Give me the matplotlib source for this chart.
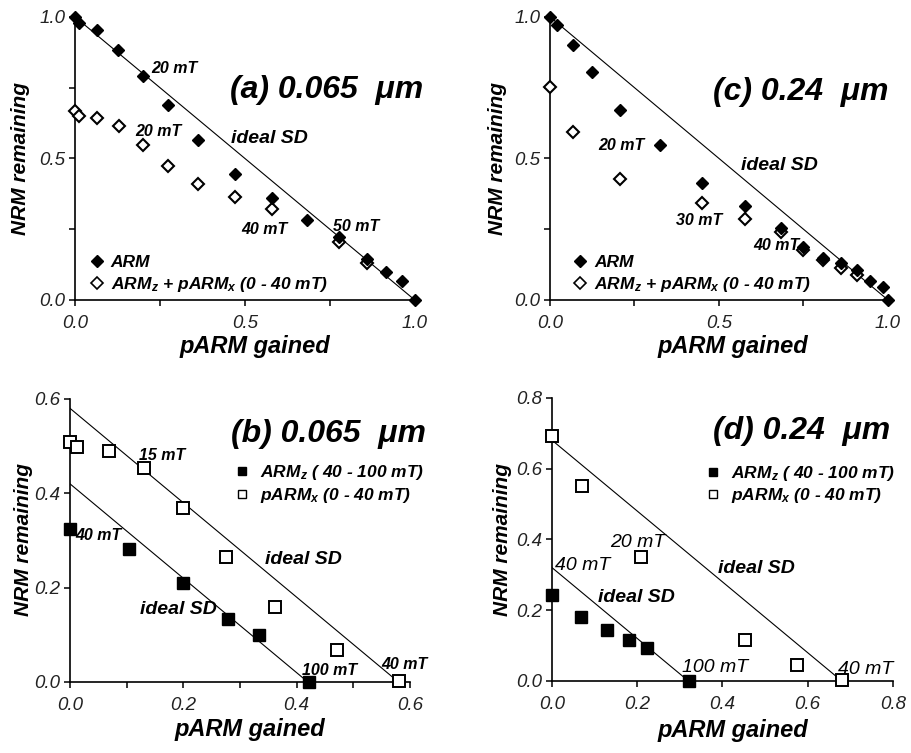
from matplotlib import pyplot as plt
from matplotlib.ticker import FormatStrFormatter, MultipleLocator
from matplotlib.lines import Line2D

plt.rcParams["font.family"] = ["Liberation Sans", "DejaVu Sans"]
plt.rcParams["mathtext.fontset"] = "custom"
plt.rcParams["mathtext.it"] = "Liberation Sans:italic:bold"
plt.rcParams["mathtext.rm"] = "Liberation Sans:italic:bold"

# (a) 0.065 um : ARM vs ARMz + pARMx
a_arm_x = [0.0, 0.012, 0.066, 0.127, 0.199, 0.275, 0.361, 0.471, 0.580, 0.683, 0.776, 0.858, 0.914, 0.961, 1.0]
a_arm_y = [1.0, 0.979, 0.953, 0.882, 0.791, 0.688, 0.565, 0.445, 0.362, 0.282, 0.224, 0.144, 0.100, 0.067, 0.0]
a_mix_x = [0.0, 0.013, 0.066, 0.129, 0.199, 0.275, 0.361, 0.471, 0.580, 0.776, 0.858]
a_mix_y = [0.667, 0.651, 0.644, 0.614, 0.549, 0.474, 0.411, 0.365, 0.321, 0.206, 0.129]

# (c) 0.24 um
c_arm_x = [0.0, 0.022, 0.069, 0.123, 0.207, 0.325, 0.451, 0.576, 0.685, 0.749, 0.808, 0.862, 0.908, 0.946, 0.985, 1.0]
c_arm_y = [1.0, 0.971, 0.900, 0.806, 0.671, 0.549, 0.412, 0.333, 0.256, 0.188, 0.147, 0.129, 0.106, 0.068, 0.045, 0.0]
c_mix_x = [0.0, 0.069, 0.207, 0.451, 0.576, 0.685, 0.749, 0.808, 0.862, 0.908]
c_mix_y = [0.751, 0.594, 0.429, 0.344, 0.286, 0.239, 0.176, 0.141, 0.112, 0.088]

# (b) 0.065 um : ARMz (40-100 mT) and pARMx (0-40 mT)
b_armz_x = [0.0, 0.105, 0.199, 0.279, 0.334, 0.422]
b_armz_y = [0.324, 0.282, 0.209, 0.134, 0.099, 0.0]
b_parm_x = [0.0, 0.013, 0.069, 0.131, 0.200, 0.275, 0.362, 0.472, 0.581]
b_parm_y = [0.508, 0.499, 0.490, 0.454, 0.369, 0.264, 0.159, 0.067, 0.002]
b_sd = [0.42, 0.58]

# (d) 0.24 um
d_armz_x = [0.0, 0.067, 0.128, 0.180, 0.224, 0.322]
d_armz_y = [0.242, 0.181, 0.143, 0.115, 0.094, 0.0]
d_parm_x = [0.0, 0.071, 0.208, 0.453, 0.574, 0.680]
d_parm_y = [0.692, 0.552, 0.350, 0.115, 0.045, 0.002]
d_sd = [0.32, 0.68]

mix_label = "ARM$_z$ + pARM$_x$ (0 - 40 mT)"
armz_label = "ARM$_z$ ( 40 - 100 mT)"
parm_label = "pARM$_x$ (0 - 40 mT)"

fig = plt.figure(figsize=(9.11, 7.53), dpi=100)
ax_a = fig.add_axes([0.0823, 0.6016, 0.373, 0.376])
ax_c = fig.add_axes([0.6037, 0.6016, 0.371, 0.376])
ax_b = fig.add_axes([0.0768, 0.0943, 0.373, 0.376])
ax_d = fig.add_axes([0.606, 0.0957, 0.374, 0.376])

bi = dict(fontweight="bold", fontstyle="italic")


def style_axes(ax, xmax, ymax, xmaj, xmin, ymaj, ymin, ylab, xlab):
    ax.set_xlim(0, xmax)
    ax.set_ylim(0, ymax)
    for s in ["top", "right"]:
        ax.spines[s].set_visible(False)
    for s in ["left", "bottom"]:
        ax.spines[s].set_linewidth(1.2)
    ax.xaxis.set_major_locator(MultipleLocator(xmaj))
    ax.yaxis.set_major_locator(MultipleLocator(ymaj))
    if xmin:
        ax.xaxis.set_minor_locator(MultipleLocator(xmin))
    if ymin:
        ax.yaxis.set_minor_locator(MultipleLocator(ymin))
    ax.xaxis.set_major_formatter(FormatStrFormatter("%.1f"))
    ax.yaxis.set_major_formatter(FormatStrFormatter("%.1f"))
    ax.tick_params(which="both", direction="out", length=4, width=1.1,
                   labelsize=13.5, labelcolor="#222222")
    ax.tick_params(axis="x", pad=7)
    ax.tick_params(axis="y", pad=3)
    for t in ax.get_xticklabels() + ax.get_yticklabels():
        t.set_fontstyle("italic")
    ax.set_ylabel("NRM remaining", fontsize=15, **bi)
    ax.set_xlabel("pARM gained", fontsize=17, **bi)
    ax.yaxis.set_label_coords(ylab[0], ylab[1])
    ax.xaxis.set_label_coords(xlab[0], xlab[1])


def note(ax, x, y, s, size=11.5, bold=True):
    ax.text(x, y, s, fontsize=size, fontstyle="italic",
            fontweight="bold" if bold else "normal", ha="left", va="center")


# top row: diamonds
for ax, ax_x, ax_y, mx, my in [(ax_a, a_arm_x, a_arm_y, a_mix_x, a_mix_y),
                               (ax_c, c_arm_x, c_arm_y, c_mix_x, c_mix_y)]:
    ax.plot([0, 1], [1, 0], color="black", lw=0.8)
    ax.plot(mx, my, "D", ms=6.5, mfc="white", mec="black", mew=1.5,
            ls="none", clip_on=False, zorder=3)
    ax.plot(ax_x, ax_y, "D", ms=6.5, mfc="black", mec="black",
            ls="none", clip_on=False, zorder=4)

style_axes(ax_a, 1.0, 1.0, 0.5, 0.25, 0.5, 0.25, (-0.132, 0.5), (0.53, -0.124))
style_axes(ax_c, 1.0, 1.0, 0.5, 0.25, 0.5, 0.25, (-0.127, 0.5), (0.54, -0.124))

note(ax_a, 0.225, 0.818, "20 mT")
note(ax_a, 0.176, 0.594, "20 mT")
note(ax_a, 0.49, 0.249, "40 mT")
note(ax_a, 0.76, 0.259, "50 mT")
note(ax_a, 0.46, 0.57, "ideal SD", size=14)
note(ax_a, 0.456, 0.741, "(a) 0.065  μm", size=23)

note(ax_c, 0.143, 0.547, "20 mT")
note(ax_c, 0.374, 0.282, "30 mT")
note(ax_c, 0.601, 0.194, "40 mT")
note(ax_c, 0.564, 0.476, "ideal SD", size=14)
note(ax_c, 0.483, 0.735, "(c) 0.24  μm", size=23)

for ax, x0 in [(ax_a, 0.044), (ax_c, 0.069)]:
    h = [Line2D([], [], marker="D", ms=6.5, mfc="black", mec="black", ls="none"),
         Line2D([], [], marker="D", ms=6.5, mfc="white", mec="black", mew=1.2, ls="none")]
    leg = ax.legend(h, ["ARM", mix_label], loc="center left",
                    bbox_to_anchor=(x0, 0.089), frameon=False,
                    prop=dict(size=12.5, weight="bold", style="italic"),
                    handlelength=0.8, handletextpad=0.4, borderpad=0,
                    borderaxespad=0, labelspacing=0.3)

# bottom row: squares
for ax, zx, zy, px, py, sd in [(ax_b, b_armz_x, b_armz_y, b_parm_x, b_parm_y, b_sd),
                               (ax_d, d_armz_x, d_armz_y, d_parm_x, d_parm_y, d_sd)]:
    for v in sd:
        ax.plot([0, v], [v, 0], color="black", lw=0.8)
    ax.plot(px, py, "s", ms=8, mfc="white", mec="black", mew=1.4,
            ls="none", clip_on=False, zorder=3)
    ax.plot(zx, zy, "s", ms=8.5, mfc="black", mec="black",
            ls="none", clip_on=False, zorder=4)

style_axes(ax_b, 0.6, 0.6, 0.2, 0.1, 0.2, None, (-0.109, 0.505), (0.53, -0.127))
style_axes(ax_d, 0.8, 0.8, 0.2, None, 0.2, None, (-0.117, 0.5), (0.53, -0.134))

note(ax_b, 0.122, 0.480, "15 mT")
note(ax_b, 0.009, 0.310, "40 mT")
note(ax_b, 0.409, 0.025, "100 mT")
note(ax_b, 0.55, 0.037, "40 mT")
note(ax_b, 0.344, 0.260, "ideal SD", size=14)
note(ax_b, 0.124, 0.154, "ideal SD", size=14)
note(ax_b, 0.285, 0.526, "(b) 0.065  μm", size=23)

note(ax_d, 0.136, 0.391, "20 mT", size=14, bold=False)
note(ax_d, 0.006, 0.325, "40 mT", size=14, bold=False)
note(ax_d, 0.304, 0.038, "100 mT", size=14, bold=False)
note(ax_d, 0.672, 0.033, "40 mT", size=14, bold=False)
note(ax_d, 0.39, 0.317, "ideal SD", size=14)
note(ax_d, 0.108, 0.235, "ideal SD", size=14)
note(ax_d, 0.379, 0.706, "(d) 0.24  μm", size=23)

for ax, x0, yc in [(ax_b, 0.487, 0.699), (ax_d, 0.453, 0.694)]:
    h = [Line2D([], [], marker="s", ms=6, mfc="black", mec="black", ls="none"),
         Line2D([], [], marker="s", ms=6, mfc="white", mec="black", mew=1.0, ls="none")]
    ax.legend(h, [armz_label, parm_label], loc="center left",
              bbox_to_anchor=(x0, yc), frameon=False,
              prop=dict(size=12.5, weight="bold", style="italic"),
              handlelength=0.8, handletextpad=0.6, borderpad=0,
              borderaxespad=0, labelspacing=0.2)

fig.savefig("out.png", dpi=100)
